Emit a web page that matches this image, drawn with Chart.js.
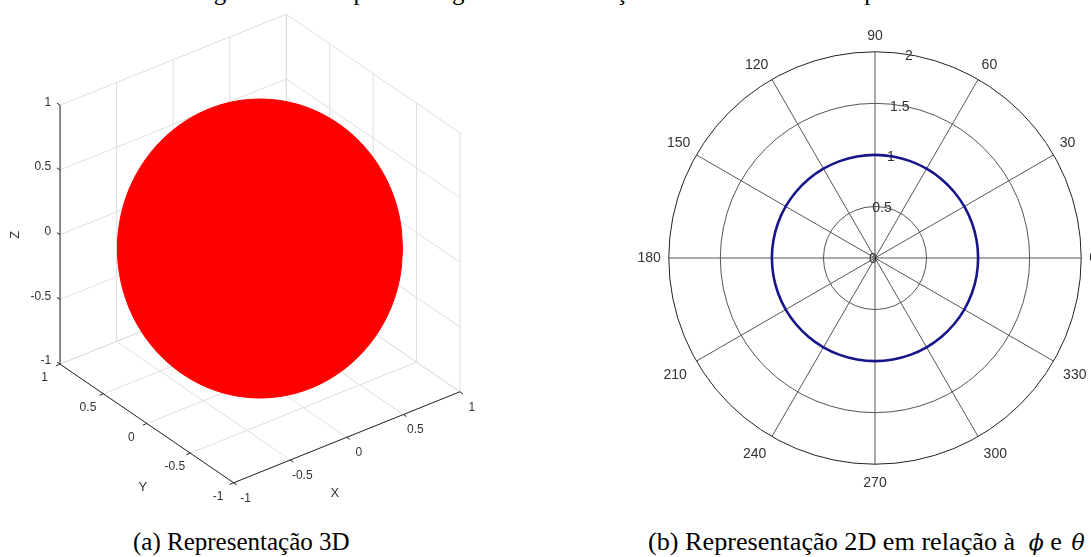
<!DOCTYPE html>
<html>
<head>
<meta charset="utf-8">
<script src="https://cdn.jsdelivr.net/npm/chart.js"></script>
<style>
    html, body { margin: 0; padding: 0; width: 1091px; height: 557px; overflow: hidden; background: #fff; }
    .box { position: absolute; }
    .cap { position: absolute; font-family: "Liberation Serif", "Times New Roman", serif; font-size: 25px; color: #000; white-space: nowrap; line-height: 29px; }
    .math { font-family: "DejaVu Serif", serif; font-style: italic; font-size: 22px; }
</style>
</head>
<body>
    <div class="cap" style="left:193px; top:-23px;">Fig. 2.7 – Exemplo de diagrama de irradiação de uma antena isotrópica</div>
    <div class="box" style="left:0px; top:0px; width:540px; height:520px;"><canvas id="sphere"></canvas></div>
    <div class="box" style="left:595px; top:27px; width:560px; height:468px;"><canvas id="polar"></canvas></div>
    <div class="cap" style="left:133px; top:527px;">(a) Representação 3D</div>
    <div class="cap" style="left:648px; top:527px; font-size:26.2px;">(b) Representação 2D em relação à <span class="math" style="margin-left:7px;">ϕ</span> e <span class="math" style="margin-left:3px;">θ</span></div>
    <script>
        // isotropic antenna: same gain in every direction, sampled every 10 degrees
        const angleDeg = [0, 10, 20, 30, 40, 50, 60, 70, 80, 90, 100, 110, 120, 130, 140, 150, 160, 170,
                          180, 190, 200, 210, 220, 230, 240, 250, 260, 270, 280, 290, 300, 310, 320, 330, 340, 350];
        const gain = [1, 1, 1, 1, 1, 1, 1, 1, 1, 1, 1, 1, 1, 1, 1, 1, 1, 1,
                      1, 1, 1, 1, 1, 1, 1, 1, 1, 1, 1, 1, 1, 1, 1, 1, 1, 1];
        const angleTicks = [0, 30, 60, 90, 120, 150, 180, 210, 240, 270, 300, 330];
        const radialTicks = [0, 0.5, 1, 1.5, 2];
        const cubeTicks = [-1, -0.5, 0, 0.5, 1];

        const labelFont = '"Liberation Sans", Arial, sans-serif';

        // ---------- (b) polar plot as a radar chart ----------
        // radar goes clockwise from the top, matlab polar goes counter-clockwise from the right
        const n = angleDeg.length;
        const topIdx = angleDeg.indexOf(90);
        const order = angleDeg.map((_, i) => (topIdx - i + n) % n);
        const polarLabels = order.map(k => angleDeg[k]);
        const polarValues = order.map(k => gain[k]);
        const rLabelAngle = 80;

        const rTickLabels = {
            id: 'rTickLabels',
            beforeDatasetsDraw(chart) {
                const r = chart.scales.r;
                const ctx = chart.ctx;
                const idx = polarLabels.indexOf(rLabelAngle);
                ctx.save();
                ctx.font = '14px ' + labelFont;
                ctx.fillStyle = '#333';
                ctx.textAlign = 'center';
                ctx.textBaseline = 'middle';
                radialTicks.forEach(v => {
                    const p = r.getPointPositionForValue(idx, v);
                    ctx.fillText(String(v), p.x - 2, p.y + 1);
                });
                ctx.restore();
            }
        };

        new Chart(document.getElementById('polar'), {
            type: 'radar',
            data: {
                labels: polarLabels,
                datasets: [{
                    data: polarValues,
                    borderColor: '#16168a',
                    borderWidth: 2.6,
                    pointRadius: 0,
                    fill: false,
                    tension: 0.33
                }]
            },
            options: {
                responsive: true,
                maintainAspectRatio: false,
                animation: false,
                layout: { padding: 0 },
                plugins: { legend: { display: false }, tooltip: { enabled: false } },
                scales: {
                    r: {
                        min: 0,
                        max: 2,
                        ticks: { display: false, stepSize: 0.5 },
                        grid: { circular: true, color: c => c.tick.value === 2 ? '#222' : '#555', lineWidth: 1 },
                        angleLines: {
                            color: '#555',
                            lineWidth: c => angleTicks.includes(polarLabels[c.index]) ? 1 : 0
                        },
                        pointLabels: {
                            padding: c => {
                                const a = polarLabels[c.index];
                                if (a > 180) return 11;
                                if (a === 0 || a === 180) return 8;
                                return 7;
                            },
                            color: '#333',
                            font: { family: labelFont, size: 14 },
                            callback: l => angleTicks.includes(l) ? String(l) : ''
                        }
                    }
                }
            },
            plugins: [rTickLabels]
        });

        // ---------- (a) 3D view, matlab default az -37.5, el 30 ----------
        const az = -37.5 * Math.PI / 180;
        const el = 30 * Math.PI / 180;
        function proj(x, y, z) {
            return {
                u: Math.cos(az) * x + Math.sin(az) * y,
                v: -Math.sin(el) * Math.sin(az) * x + Math.sin(el) * Math.cos(az) * y + Math.cos(el) * z
            };
        }
        // pixels per unit and where the origin sits on the page
        const sx = 142.6, sy = 149.5, cx = 260, cy = 248.5, cw = 540, ch = 520;

        // outline of the gain surface seen from the view direction
        const silhouette = angleDeg.map((a, i) => ({
            x: gain[i] * Math.cos(a * Math.PI / 180),
            y: gain[i] * Math.sin(a * Math.PI / 180)
        }));
        silhouette.push(silhouette[0]);

        const fmt = v => String(v);

        const cube = {
            id: 'cube',
            beforeDatasetsDraw(chart) {
                const ctx = chart.ctx;
                const xs = chart.scales.x, ys = chart.scales.y;
                const P = (x, y, z) => {
                    const p = proj(x, y, z);
                    return [xs.getPixelForValue(p.u), ys.getPixelForValue(p.v)];
                };
                const seg = (a, b) => {
                    const p = P(...a), q = P(...b);
                    ctx.beginPath();
                    ctx.moveTo(p[0], p[1]);
                    ctx.lineTo(q[0], q[1]);
                    ctx.stroke();
                };
                ctx.save();
                // grid on the back walls and the floor
                ctx.strokeStyle = '#dedede';
                ctx.lineWidth = 1;
                cubeTicks.forEach(t => {
                    seg([t, 1, -1], [t, 1, 1]);
                    seg([-1, 1, t], [1, 1, t]);
                    seg([1, t, -1], [1, t, 1]);
                    seg([1, -1, t], [1, 1, t]);
                    seg([t, -1, -1], [t, 1, -1]);
                    seg([-1, t, -1], [1, t, -1]);
                });
                // axis lines
                ctx.strokeStyle = '#262626';
                seg([-1, 1, -1], [-1, 1, 1]);
                seg([-1, -1, -1], [-1, 1, -1]);
                seg([-1, -1, -1], [1, -1, -1]);
                const tl = 0.035;
                cubeTicks.forEach(t => {
                    seg([-1, 1, t], [-1, 1 + tl, t]);
                    seg([-1, t, -1], [-1 - tl, t, -1]);
                    seg([t, -1, -1], [t, -1 - tl, -1]);
                });
                // tick labels
                ctx.fillStyle = '#333';
                ctx.font = '12px ' + labelFont;
                ctx.textBaseline = 'middle';
                cubeTicks.forEach(t => {
                    let p = P(-1, 1, t);
                    ctx.textAlign = 'right';
                    ctx.fillText(fmt(t), p[0] - 9, p[1] - 3);
                    ctx.textAlign = 'center';
                    p = P(-1, t, -1);
                    ctx.fillText(fmt(t), p[0] - 15.5, p[1] + 14);
                    p = P(t, -1, -1);
                    ctx.fillText(fmt(t), p[0] + 12, p[1] + 15.5);
                });
                // axis names
                ctx.font = '13px ' + labelFont;
                let p = P(0, -1, -1);
                ctx.fillText('X', p[0] - 12, p[1] + 56);
                p = P(-1, 0, -1);
                ctx.fillText('Y', p[0] - 4, p[1] + 63.5);
                p = P(-1, 1, 0);
                ctx.translate(p[0] - 45, p[1]);
                ctx.rotate(-Math.PI / 2);
                ctx.fillText('Z', 0, 0);
                ctx.restore();
            }
        };

        new Chart(document.getElementById('sphere'), {
            type: 'scatter',
            data: {
                datasets: [{
                    data: silhouette,
                    showLine: true,
                    fill: 'shape',
                    backgroundColor: '#ff0000',
                    borderColor: '#ff0000',
                    borderWidth: 1,
                    pointRadius: 0,
                    tension: 0.33
                }]
            },
            options: {
                responsive: true,
                maintainAspectRatio: false,
                animation: false,
                layout: { padding: 0 },
                plugins: { legend: { display: false }, tooltip: { enabled: false } },
                scales: {
                    x: { type: 'linear', display: false, min: -cx / sx, max: (cw - cx) / sx },
                    y: { type: 'linear', display: false, min: -(ch - cy) / sy, max: cy / sy }
                }
            },
            plugins: [cube]
        });
    </script>
</body>
</html>
